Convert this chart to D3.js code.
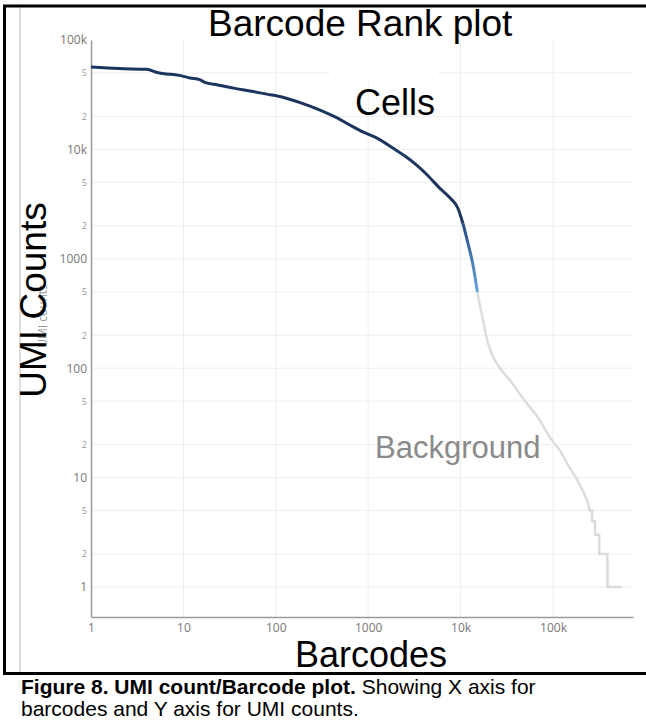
<!DOCTYPE html>
<html lang="en">
	<head>
		<meta charset="utf-8">
		<title>Barcode Rank plot</title>
		<style>
		body {
			margin: 0;
			background: #fff;
		}
		svg {
			display: block;
		}
		.grid line {
			stroke: #eeeeee;
			stroke-width: 1;
		}
		.axis path {
			stroke: #9a9a9a;
			stroke-width: 1.5;
		}
		.axis text {
			font-family: "Open Sans", sans-serif;
			font-size: 12px;
			fill: #777;
		}
		.axis text.minor {
			font-size: 9px;
			fill: #999;
		}
		.big {
			font-family: "Liberation Sans", Arial, sans-serif;
			fill: #000;
		}
		.caption {
			font-family: "Liberation Sans", Arial, sans-serif;
			font-size: 21px;
			fill: #000;
		}
		</style>
	</head>
	<body>
		<svg id="chart" width="646" height="721"></svg>

		<script src="https://cdn.jsdelivr.net/npm/d3@7"></script>
		<script>

		// ranks / UMI counts
		var cellsRank = [1, 2, 4, 5.2, 9.6, 11.8, 15, 17, 23.6, 35, 52.6, 80, 119, 190, 301, 450, 633, 900, 1245, 1850, 2500, 3200, 4300, 5980, 7700, 9350, 10600];
		var cellsUmi  = [56600, 54800, 54000, 50500, 47000, 45000, 43500, 41000, 38800, 36300, 34200, 32000, 30000, 26500, 22900, 19600, 16700, 14300, 12700, 10300, 8700, 7400, 5900, 4400, 3600, 2900, 2100];

		var mixedRank = [10600, 12000, 13500, 15200];
		var mixedUmi  = [2100, 1390, 910, 498];

		var bgRank = [15200, 16000, 16900, 19000, 22000, 26700, 34000, 49000, 71000, 92000, 117000, 150000, 191000, 234000];
		var bgUmi  = [498, 390, 318, 193, 132, 100, 78, 51, 34, 23.5, 18, 12.5, 8.9, 6.2];

		// integer tail of the background
		var tailRank = [234000, 250000, 265000, 265000, 285000, 285000, 316000, 316000, 388000, 388000, 553000];
		var tailUmi  = [6.2, 5, 5, 4, 4, 3, 3, 2, 2, 1, 1];

		var xTicks = [1, 10, 100, 1000, 10000, 100000];
		var xTickLabels = ["1", "10", "100", "1000", "10k", "100k"];
		var yTicks = [1, 2, 5, 10, 20, 50, 100, 200, 500, 1000, 2000, 5000, 10000, 20000, 50000, 100000];
		var yTickLabels = ["1", "2", "5", "10", "2", "5", "100", "2", "5", "1000", "2", "5", "10k", "2", "5", "100k"];
		var yGrid = [1, 2, 5, 10, 20, 50, 100, 200, 500, 1000, 2000, 5000, 10000, 20000, 50000];
		var xGrid = [10, 100, 1000, 10000, 100000];

		var svg = d3.select("#chart");

		var x = d3.scaleLog().domain([1, 734000]).range([91, 633]);
		var y = d3.scaleLog().domain([0.532, 100000]).range([617, 40]);

		function zip(a, b) {
			return a.map(function(d, i) { return [d, b[i]]; });
		}

		// frame
		svg.append("line").attr("x1", 20).attr("x2", 20).attr("y1", 7).attr("y2", 673)
			.attr("stroke", "#bdbdbd").attr("stroke-width", 1);

		// grid
		var grid = svg.append("g").attr("class", "grid");
		grid.selectAll(".h").data(yGrid).enter().append("line")
			.attr("class", "h")
			.attr("x1", x.range()[0]).attr("x2", x.range()[1])
			.attr("y1", function(d) { return y(d); })
			.attr("y2", function(d) { return y(d); });
		grid.selectAll(".v").data(xGrid).enter().append("line")
			.attr("class", "v")
			.attr("y1", y.range()[0]).attr("y2", y.range()[1])
			.attr("x1", function(d) { return x(d); })
			.attr("x2", function(d) { return x(d); });

		// white patch behind the "Cells" label
		svg.append("rect").attr("x", 330).attr("y", 42).attr("width", 108).attr("height", 40).attr("fill", "#fff");

		// axes
		var yAxis = svg.append("g").attr("class", "axis")
			.attr("transform", "translate(" + x.range()[0] + ",0)")
			.call(d3.axisLeft(y).tickValues(yTicks).tickSize(0).tickSizeOuter(0).tickPadding(4)
				.tickFormat(function(d, i) { return yTickLabels[i]; }));
		yAxis.selectAll(".tick text").classed("minor", function(d, i) { return yTickLabels[i].length == 1 && d != 1; });

		svg.append("g").attr("class", "axis")
			.attr("transform", "translate(0," + y.range()[0] + ")")
			.call(d3.axisBottom(x).tickValues(xTicks).tickSize(0).tickSizeOuter(0).tickPadding(6)
				.tickFormat(function(d, i) { return xTickLabels[i]; }));

		svg.selectAll(".axis .domain").attr("fill", "none");

		// curve
		var smooth = d3.line()
			.curve(d3.curveMonotoneX)
			.x(function(d) { return x(d[0]); })
			.y(function(d) { return y(d[1]); });
		var straight = d3.line()
			.x(function(d) { return x(d[0]); })
			.y(function(d) { return y(d[1]); });

		var grad = svg.append("defs").append("linearGradient")
			.attr("id", "mix")
			.attr("gradientUnits", "userSpaceOnUse")
			.attr("x1", x(mixedRank[0])).attr("y1", y(mixedUmi[0]))
			.attr("x2", x(mixedRank[mixedRank.length - 1])).attr("y2", y(mixedUmi[mixedUmi.length - 1]));
		grad.append("stop").attr("offset", "0%").attr("stop-color", "#244a7e");
		grad.append("stop").attr("offset", "100%").attr("stop-color", "#62a6de");

		svg.append("path").datum(zip(tailRank, tailUmi))
			.attr("d", straight).attr("fill", "none")
			.attr("stroke", "#dcdcdc").attr("stroke-width", 2.5);
		svg.append("path").datum(zip(bgRank, bgUmi))
			.attr("d", smooth).attr("fill", "none")
			.attr("stroke", "#dcdcdc").attr("stroke-width", 2.5);
		svg.append("path").datum(zip(mixedRank, mixedUmi))
			.attr("d", smooth).attr("fill", "none")
			.attr("stroke", "url(#mix)").attr("stroke-width", 3);
		svg.append("path").datum(zip(cellsRank, cellsUmi))
			.attr("d", smooth).attr("fill", "none")
			.attr("stroke", "#1c355e").attr("stroke-width", 3)
			.attr("stroke-linejoin", "round");

		// labels
		svg.append("text").attr("class", "big").attr("x", 208).attr("y", 36)
			.style("font-size", "37px").text("Barcode Rank plot");
		svg.append("text").attr("class", "big").attr("x", 355).attr("y", 115)
			.style("font-size", "36px").text("Cells");
		svg.append("text").attr("class", "big").attr("x", 375).attr("y", 458)
			.style("font-size", "31px").style("fill", "#8a8a8a").text("Background");
		svg.append("text").attr("class", "big").attr("x", 371).attr("y", 667)
			.attr("text-anchor", "middle")
			.style("font-size", "36px").text("Barcodes");
		svg.append("text")
			.attr("transform", "translate(47,316) rotate(-90)")
			.attr("text-anchor", "middle")
			.style("font-family", "'Open Sans', sans-serif").style("font-size", "12px").style("fill", "#999")
			.text("UMI counts");
		svg.append("text").attr("class", "big")
			.attr("transform", "translate(46,300) rotate(-90)")
			.attr("text-anchor", "middle")
			.style("font-size", "37px").text("UMI Counts");

		// black borders of the figure cell
		svg.append("line").attr("x1", 3).attr("x2", 646).attr("y1", 6).attr("y2", 6)
			.attr("stroke", "#000").attr("stroke-width", 3);
		svg.append("line").attr("x1", 4.5).attr("x2", 4.5).attr("y1", 5).attr("y2", 675)
			.attr("stroke", "#000").attr("stroke-width", 3);
		svg.append("line").attr("x1", 3).attr("x2", 646).attr("y1", 673.5).attr("y2", 673.5)
			.attr("stroke", "#000").attr("stroke-width", 3);

		// caption
		var cap = svg.append("text").attr("class", "caption").attr("x", 21).attr("y", 694);
		cap.append("tspan").style("font-weight", "bold").text("Figure 8. UMI count/Barcode plot.");
		cap.append("tspan").text(" Showing X axis for");
		svg.append("text").attr("class", "caption").attr("x", 21).attr("y", 716)
			.text("barcodes and Y axis for UMI counts.");

		</script>
	</body>
</html>
